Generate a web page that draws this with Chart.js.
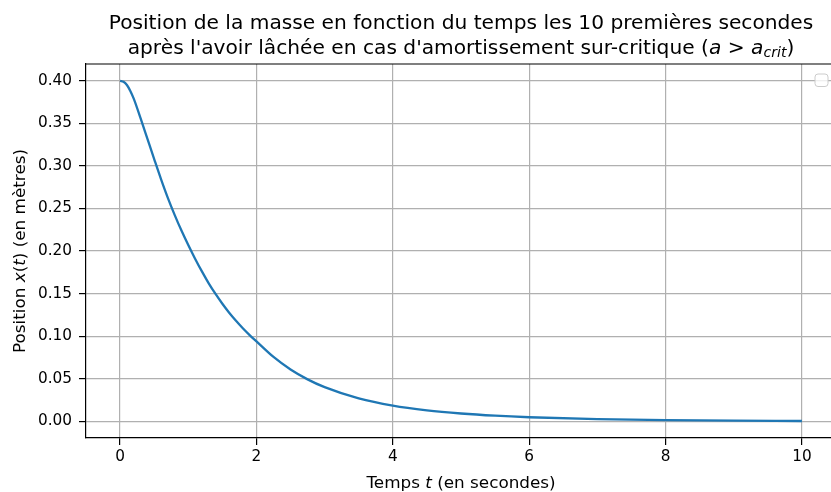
<!DOCTYPE html>
<html lang="fr">
<head>
<meta charset="utf-8">
<title>Amortissement sur-critique</title>
<script src="https://cdn.jsdelivr.net/npm/chart.js@4/dist/chart.umd.min.js"></script>
<style>
  html, body { margin: 0; padding: 0; background: #fff; overflow: hidden; }
  #wrap { position: relative; width: 850px; height: 492px; }
</style>
</head>
<body>
<div id="wrap"><canvas id="positionChart"></canvas></div>
<script>
// temps (s) et position (m)
const temps = [0, 0.05, 0.1, 0.15, 0.2, 0.3, 0.4, 0.5, 0.6, 0.7, 0.8, 0.9, 1.0, 1.1, 1.2, 1.3, 1.4, 1.5,
    1.6, 1.7, 1.8, 1.9, 2.0, 2.25, 2.5, 2.75, 3.0, 3.5, 4.0, 4.5, 5.0, 5.5, 6, 7, 8, 9, 10];
const position = [0.400, 0.3988, 0.395, 0.388, 0.379, 0.356, 0.332, 0.308, 0.2845, 0.2625, 0.2425, 0.224,
    0.207, 0.191, 0.176, 0.162, 0.1495, 0.138, 0.1275, 0.118, 0.1092, 0.1012, 0.0938,
    0.0755, 0.0608, 0.0492, 0.0400, 0.0268, 0.0183, 0.0128, 0.0091, 0.0065, 0.0047,
    0.0024, 0.0012, 0.0006, 0.0003];

const xTicks = [0, 2, 4, 6, 8, 10];
const yTicks = [0, 0.05, 0.10, 0.15, 0.20, 0.25, 0.30, 0.35, 0.40];

const FAMILLE = '"DejaVu Sans", sans-serif';

// texte avec morceaux en italique / indice, étiré de sx en largeur
function texteRiche(ctx, morceaux, cx, y, sx) {
    let total = 0;
    morceaux.forEach(m => {
        ctx.font = m.font;
        m.w = ctx.measureText(m.t).width;
        total += m.w;
    });
    ctx.save();
    ctx.translate(cx, y);
    ctx.scale(sx || 1, 1);
    let x = -total / 2;
    ctx.textAlign = "left";
    ctx.textBaseline = "alphabetic";
    morceaux.forEach(m => {
        ctx.font = m.font;
        ctx.fillText(m.t, x, m.dy || 0);
        x += m.w;
    });
    ctx.restore();
}

function police(taille, italique) {
    return (italique ? "italic " : "") + taille + "px " + FAMILLE;
}

const decor = {
    id: "decor",
    afterDraw(chart) {
        const ctx = chart.ctx;
        const a = chart.chartArea;
        const cx = (a.left + a.right) / 2;
        ctx.save();

        // cadre haut et droit
        ctx.strokeStyle = "#000";
        ctx.lineWidth = 1.2;
        ctx.beginPath();
        ctx.moveTo(a.left, a.top);
        ctx.lineTo(a.right, a.top);
        ctx.lineTo(a.right, a.bottom);
        ctx.stroke();

        // légende vide
        ctx.fillStyle = "rgba(255,255,255,0.8)";
        ctx.strokeStyle = "#cccccc";
        ctx.lineWidth = 1;
        ctx.beginPath();
        ctx.roundRect(a.right - 21, a.top + 10, 13, 12.5, 3);
        ctx.fill();
        ctx.stroke();

        ctx.fillStyle = "#000";
        const T = 19.6;
        texteRiche(ctx, [{ t: "Position de la masse en fonction du temps les 10 premières secondes", font: police(T) }], cx, 29, 1.03);
        texteRiche(ctx, [
            { t: "après l'avoir lâchée en cas d'amortissement sur-critique (", font: police(T) },
            { t: "a", font: police(T, true) },
            { t: " > ", font: police(T) },
            { t: "a", font: police(T, true) },
            { t: "crit", font: police(T * 0.7, true), dy: 3 },
            { t: ")", font: police(T) }
        ], cx, 53.5, 1.03);

        const L = 16;
        texteRiche(ctx, [
            { t: "Temps ", font: police(L) },
            { t: "t", font: police(L, true) },
            { t: " (en secondes)", font: police(L) }
        ], cx, 487.5, 1.05);

        ctx.translate(25, (a.top + a.bottom) / 2);
        ctx.rotate(-Math.PI / 2);
        texteRiche(ctx, [
            { t: "Position ", font: police(L) },
            { t: "x", font: police(L, true) },
            { t: "(", font: police(L) },
            { t: "t", font: police(L, true) },
            { t: ") (en mètres)", font: police(L) }
        ], 0, 0, 1.05);
        ctx.restore();
    }
};

const grille = {
    color: "#b0b0b0",
    lineWidth: 1.2,
    tickColor: "#000",
    tickLength: 7,
    drawTicks: true
};

new Chart(document.getElementById("positionChart"), {
    type: "line",
    data: {
        datasets: [{
            data: temps.map((t, i) => ({ x: t, y: position[i] })),
            borderColor: "#1f77b4",
            borderWidth: 2.3,
            pointRadius: 0,
            cubicInterpolationMode: "monotone",
            fill: false
        }]
    },
    options: {
        responsive: true,
        maintainAspectRatio: false,
        animation: false,
        layout: { padding: { left: 0, top: 64, right: 14, bottom: 0 } },
        plugins: {
            legend: { display: false },
            tooltip: { enabled: false }
        },
        scales: {
            x: {
                type: "linear",
                min: -0.5,
                max: 10.5,
                afterBuildTicks: s => { s.ticks = xTicks.map(v => ({ value: v })); },
                afterFit: s => { s.height = 54; },
                grid: grille,
                border: { display: true, color: "#000", width: 1.2 },
                ticks: {
                    color: "#000",
                    padding: 3,
                    maxRotation: 0,
                    font: { family: FAMILLE, size: 15.3 },
                    callback: v => String(v)
                }
            },
            y: {
                type: "linear",
                min: -0.0197,
                max: 0.4197,
                afterBuildTicks: s => { s.ticks = yTicks.map(v => ({ value: v })); },
                afterFit: s => { s.width = 86; },
                grid: grille,
                border: { display: true, color: "#000", width: 1.2 },
                ticks: {
                    color: "#000",
                    padding: 7,
                    font: { family: FAMILLE, size: 15.3 },
                    callback: v => v.toFixed(2)
                }
            }
        }
    },
    plugins: [decor]
});
</script>
</body>
</html>
